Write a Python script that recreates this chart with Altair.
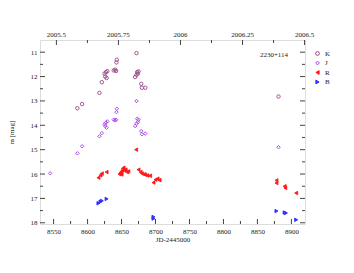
import altair as alt
import pandas as pd

# ---- data (JD-2445000, magnitude) ----
K_jd = [8585, 8592, 8617.5, 8621, 8625, 8627, 8629, 8626, 8628, 8638.5, 8640.5, 8642, 8642.5, 8643,
        8672, 8673, 8675, 8674, 8672, 8670, 8679, 8680, 8685, 8881]
K_mag = [13.3, 13.13, 12.67, 12.23, 11.88, 11.82, 11.78, 12.0, 12.06, 11.75, 11.72, 11.77, 11.42, 11.31,
         11.04, 11.82, 11.79, 11.88, 11.93, 12.02, 12.3, 12.46, 12.46, 12.82]

J_jd = [8545, 8585, 8592, 8617.5, 8621, 8625, 8627, 8629, 8626, 8628, 8638.5, 8640.5, 8642, 8642.5, 8643,
        8672, 8673, 8675, 8674, 8672, 8670, 8679, 8680, 8685, 8881]
J_mag = [15.97, 15.15, 14.86, 14.45, 14.32, 13.96, 13.89, 13.84, 14.03, 14.1, 13.77, 13.8, 13.77, 13.46, 13.32,
         13.0, 13.73, 13.77, 13.87, 13.93, 14.03, 14.24, 14.37, 14.34, 14.9]

R_jd = [8616, 8619, 8621, 8628, 8647, 8648, 8649, 8649.5, 8650, 8651, 8652, 8653, 8654, 8656, 8658, 8660,
        8671.5, 8675, 8678, 8680, 8683, 8685, 8688, 8692, 8697, 8700, 8703, 8706,
        8878, 8878, 8890, 8891, 8907]
R_mag = [16.15, 16.05, 15.98, 15.92, 16.01, 15.98, 15.95, 15.92, 16.02, 15.85, 15.78, 15.74, 15.85, 15.82, 15.92, 15.89,
         15.0, 15.82, 15.92, 15.98, 16.01, 16.03, 16.06, 16.07, 16.35, 16.23, 16.19, 16.25,
         16.26, 16.37, 16.5, 16.57, 16.78]

B_jd = [8616, 8619, 8621, 8628, 8697, 8697, 8878, 8890, 8892, 8907]
B_mag = [17.2, 17.14, 17.1, 17.02, 17.76, 17.83, 17.52, 17.58, 17.6, 17.88]

bands = ["K", "J", "R", "B"]
band_colors = ["#9a4886", "#a440e6", "#ff1a1a", "#3030ff"]
band_fills = ["transparent", "transparent", "#ff1a1a", "#3030ff"]
band_shapes = ["circle", "diamond", "triangle-left", "triangle-right"]

x_major = [8550, 8600, 8650, 8700, 8750, 8800, 8850, 8900]
x_minor = [8575, 8625, 8675, 8725, 8775, 8825, 8875]
y_major = [11, 12, 13, 14, 15, 16, 17, 18]
y_minor = [11.5, 12.5, 13.5, 14.5, 15.5, 16.5, 17.5]
year_major = [2005.5, 2005.75, 2006, 2006.25, 2006.5]
year_labels = ["2005.5", "2005.75", "2006", "2006.25", "2006.5"]
year_minor = [2005.625, 2005.875, 2006.125, 2006.375]

object_name = "2230+114"

rows = []
for b, jds, mags in [("K", K_jd, K_mag), ("J", J_jd, J_mag), ("R", R_jd, R_mag), ("B", B_jd, B_mag)]:
    for j, m in zip(jds, mags):
        rows.append({"jd": j, "mag": m, "band": b})
df = pd.DataFrame(rows)

W, H = 265, 184
FONT = "Liberation Serif"
AX = "#444444"
XT = "JD-2445000"
YT = "m [mag]"

xs = alt.Scale(domain=[8530, 8920], nice=False, zero=False)
ys = alt.Scale(domain=[10.5, 18.05], reverse=True, nice=False, zero=False)

x_axis = alt.Axis(values=x_major, format="d", ticks=False, domain=False, grid=False,
                  labelFont=FONT, labelFontSize=7, labelColor="#222", labelPadding=3,
                  titleFont=FONT, titleFontSize=7, titleFontWeight="normal", titleColor="#222",
                  titlePadding=1)
y_axis = alt.Axis(values=y_major, format="d", ticks=False, domain=False, grid=False,
                  labelFont=FONT, labelFontSize=7, labelColor="#222", labelPadding=3,
                  titleFont=FONT, titleFontSize=7, titleFontWeight="normal", titleColor="#222",
                  titlePadding=16)

leg = alt.Legend(title=None, orient="none", legendX=274, legendY=10, padding=0,
                 labelFont=FONT, labelFontSize=7, labelColor="#222", rowPadding=0.5,
                 symbolSize=14, symbolStrokeWidth=1, labelOffset=4)

points = alt.Chart(df).mark_point(opacity=1, size=12, strokeWidth=0.9).encode(
    x=alt.X("jd:Q", scale=xs, title=XT, axis=x_axis),
    y=alt.Y("mag:Q", scale=ys, title=YT, axis=y_axis),
    color=alt.Color("band:N", scale=alt.Scale(domain=bands, range=band_colors), legend=leg),
    shape=alt.Shape("band:N", scale=alt.Scale(domain=bands, range=band_shapes), legend=leg),
    fill=alt.Fill("band:N", scale=alt.Scale(domain=bands, range=band_fills), legend=leg),
)

def vtick(vals, x0, x1):
    d = pd.DataFrame({"jd": [8700] * len(vals), "mag": vals})
    return alt.Chart(d).mark_rule(color=AX, strokeWidth=1).encode(
        y=alt.Y("mag:Q", scale=ys, title=YT, axis=y_axis), x=alt.value(x0), x2=alt.value(x1))

def htick(vals, y0, y1):
    d = pd.DataFrame({"jd": vals})
    return alt.Chart(d).mark_rule(color=AX, strokeWidth=1).encode(
        x=alt.X("jd:Q", scale=xs, title=XT, axis=x_axis), y=alt.value(y0), y2=alt.value(y1))

def ytick(vals, y0, y1):
    d = pd.DataFrame({"yr": vals})
    return alt.Chart(d).transform_calculate(
        jd="(datum.yr - 2005) * 365.25 + 8371.5").mark_rule(color=AX, strokeWidth=1).encode(
        x=alt.X("jd:Q", scale=xs, title=XT, axis=x_axis), y=alt.value(y0), y2=alt.value(y1))

ydf = pd.DataFrame({"yr": year_major, "lab": year_labels})
year_text = alt.Chart(ydf).transform_calculate(
    jd="(datum.yr - 2005) * 365.25 + 8371.5").mark_text(
    font=FONT, fontSize=7, color="#222", baseline="alphabetic", align="center").encode(
    x=alt.X("jd:Q", scale=xs, title=XT, axis=x_axis), y=alt.value(-3), text="lab:N")

name_text = alt.Chart(pd.DataFrame({"t": [object_name]})).mark_text(
    font=FONT, fontSize=7, color="#222", align="center", baseline="middle").encode(
    x=alt.value(234), y=alt.value(15), text="t:N")

chart = alt.layer(
    points,
    vtick(y_major, 0, 5), vtick(y_minor, 0, 3),
    vtick(y_major, W - 5, W), vtick(y_minor, W - 3, W),
    htick(x_major, H - 5, H), htick(x_minor, H - 3, H),
    ytick(year_major, 0, 5), ytick(year_minor, 0, 3),
    year_text, name_text,
).properties(
    width=W, height=H,
    autosize=alt.AutoSizeParams(type="none"),
    padding={"left": 32, "top": 32, "right": 41, "bottom": 41},
).configure_view(stroke=AX, strokeWidth=1).configure(background="white")

chart.save("out.html", embed_options={"renderer": "svg", "actions": False})
